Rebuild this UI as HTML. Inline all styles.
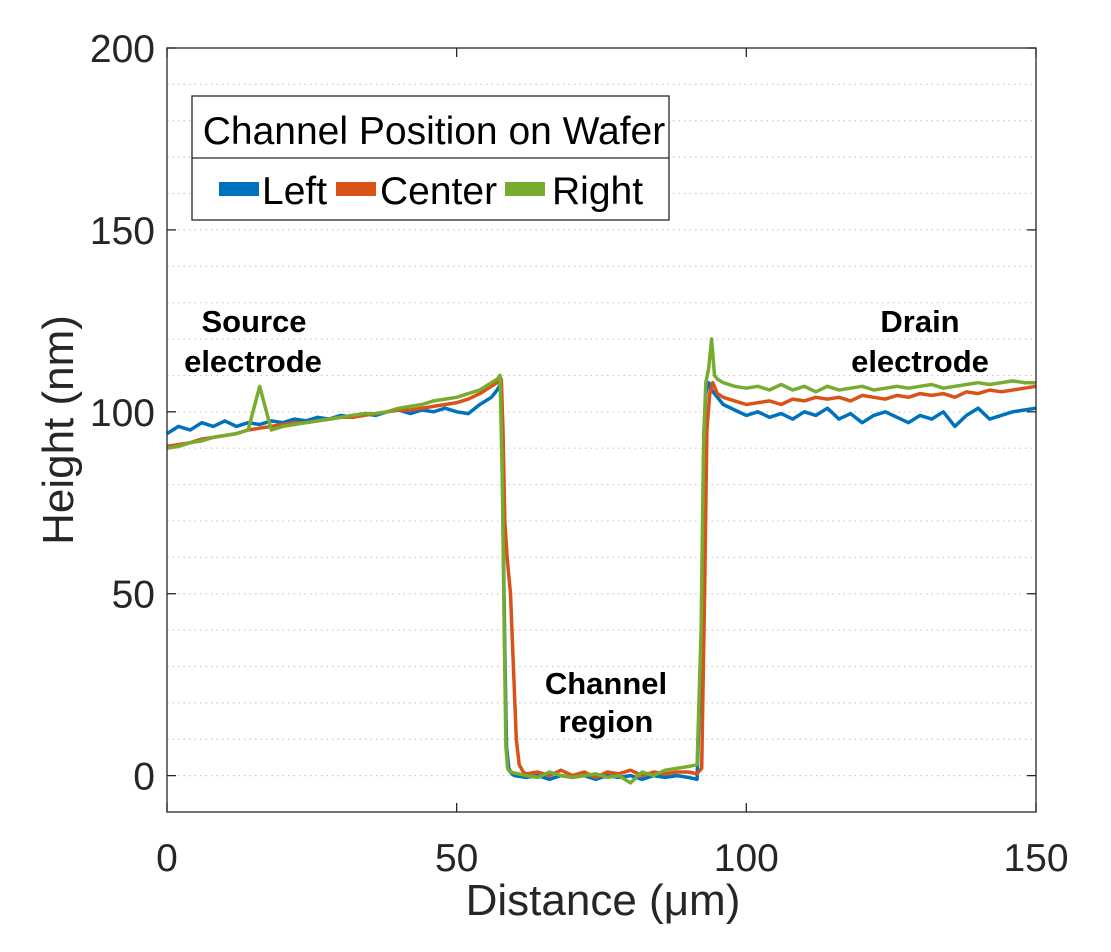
<!DOCTYPE html>
<html><head><meta charset="utf-8">
<style>
body{margin:0;background:#fff;}
svg{display:block;font-family:"Liberation Sans",Arial,sans-serif;}
</style></head>
<body>
<svg id="chart" width="1111" height="952" viewBox="0 0 1111 952"></svg>
<script>
// ---- data ----
const plateau1X = [0,2,4,6,8,10,12,14,16,18,20,22,24,26,28,30,32,34,36,38,40,42,44,46,48,50,52,54,56];
const channelX = [62,64,66,68,70,72,74,76,78,80,82,84,86,88,90];
const plateau2X = [96,98,100,102,104,106,108,110,112,114,116,118,120,122,124,126,128,130,132,134,136,138,140,142,144,146,148,150];

const leftP1 = [94,96,95,97,96,97.5,96,97,96.5,97.5,97,98,97.5,98.5,98,99,98.5,99.5,99,100,100.5,99.5,100.5,100,101,100,99.5,102,104];
const leftEdge1X = [57,57.7,58,58.3,58.6,59,59.5,60];
const leftEdge1Y = [106,108,70,35,8,2,0.5,0];
const leftCh = [-0.5,0,-1,0,-0.5,0,-1,0,-0.5,0,-1,0,-0.5,0,-0.5];
const leftEdge2X = [91.5,92.3,92.7,93,93.5,94,95];
const leftEdge2Y = [-1,40,95,105,108,106,104];
const leftP2 = [102,100.5,99,100,98.5,99.5,98,100,99,101,98,99.5,97,99,100,98.5,97,99,98,100,96,99,101,98,99,100,100.5,101];

const centerP1 = [90.5,91,91.5,92.5,93,93.5,94,95,95.5,96,96.5,97,97,97.5,98,98.5,98.5,99,99.5,100,100.5,100.5,101,101.5,102,102.5,103.5,105,107];
const centerEdge1X = [57,57.7,58,58.3,58.7,59.3,59.8,60.3,60.8,61.5];
const centerEdge1Y = [108,109,95,70,60,50,30,10,3,1];
const centerCh = [0.5,1,0,1.5,0,1,-0.5,1,0.5,1.5,0,1,0.5,1,1];
const centerEdge2X = [91.5,92.3,92.8,93.2,93.7,94.2,95];
const centerEdge2Y = [0.5,2,50,95,105,108,105];
const centerP2 = [104,103,102,102.5,103,102,103.5,103,104,103.5,104,103,104.5,104,103.5,104.5,104,105,104.5,105,104,105.5,105,106,105.5,106,106.5,107];

const rightP1 = [90,90.5,91.5,92,93,93.5,94,95,107,95,96,96.5,97,97.5,98,98.5,99,99.5,99.5,100,101,101.5,102,103,103.5,104,105,106,108];
const rightEdge1X = [57,57.5,57.9,58.2,58.5,58.8,59.2];
const rightEdge1Y = [109,110,80,40,8,2,1];
const rightCh = [0,-0.5,1,0,-0.5,0,0.5,-0.5,0,-2,1,0,1.5,2,2.5];
const rightEdge2X = [91.5,92.2,92.6,93,93.5,94,94.5,95];
const rightEdge2Y = [3,40,90,108,112,120,110,109];
const rightP2 = [108,107,106.5,107,106,107.5,106,107,105.5,107,106,106.5,107,106,106.5,107,106.5,107,107.5,106.5,107,107.5,108,107.5,108,108.5,108,108];

const xTicks = [0,50,100,150];
const yTicks = [0,50,100,150,200];

// ---- layout ----
const L=167,R=1036,T=48,B=812;
const xMin=0,xMax=150,yMin=-10,yMax=200;
const sx=v=>L+(v-xMin)/(xMax-xMin)*(R-L);
const sy=v=>B-(v-yMin)/(yMax-yMin)*(B-T);
const NS="http://www.w3.org/2000/svg";
const svg=document.getElementById('chart');
function mk(tag,attrs,parent){const e=document.createElementNS(NS,tag);for(const k in attrs)e.setAttribute(k,attrs[k]);(parent||svg).appendChild(e);return e;}

// grid
const grid=mk('g',{});


for(let v=0;v<200;v+=10){
  mk('line',{x1:L,x2:R,y1:sy(v),y2:sy(v),stroke:'#c8c8c8','stroke-width':1.2,'stroke-dasharray':'1.5 4'},grid);
}

// series
function build(p1,e1x,e1y,ch,e2x,e2y,p2){
  const xs=[].concat(plateau1X,e1x,channelX,e2x,plateau2X);
  const ys=[].concat(p1,e1y,ch,e2y,p2);
  return xs.map((x,i)=>[x,ys[i]]);
}
const series=[
  {name:'left',color:'#0072BD',pts:build(leftP1,leftEdge1X,leftEdge1Y,leftCh,leftEdge2X,leftEdge2Y,leftP2)},
  {name:'center',color:'#D95319',pts:build(centerP1,centerEdge1X,centerEdge1Y,centerCh,centerEdge2X,centerEdge2Y,centerP2)},
  {name:'right',color:'#77AC30',pts:build(rightP1,rightEdge1X,rightEdge1Y,rightCh,rightEdge2X,rightEdge2Y,rightP2)}
];
series.forEach(s=>{
  const d=s.pts.map((p,i)=>(i?'L':'M')+sx(p[0]).toFixed(1)+' '+sy(p[1]).toFixed(1)).join(' ');
  const path=mk('path',{d:d,fill:'none',stroke:s.color,'stroke-width':3.5,'stroke-linejoin':'round'});
  
  
});

// axes box
const box=mk('rect',{x:L,y:T,width:R-L,height:B-T,fill:'none',stroke:'#262626','stroke-width':1.3});



// ticks
xTicks.forEach(v=>{
  mk('line',{x1:sx(v),x2:sx(v),y1:B,y2:B-9,stroke:'#262626','stroke-width':1.3});
  mk('line',{x1:sx(v),x2:sx(v),y1:T,y2:T+9,stroke:'#262626','stroke-width':1.3});
  const t=mk('text',{x:sx(v),y:871,'text-anchor':'middle','font-size':39,fill:'#262626'});
  t.textContent=v;
  
  
});
yTicks.forEach(v=>{
  mk('line',{x1:L,x2:L+9,y1:sy(v),y2:sy(v),stroke:'#262626','stroke-width':1.3});
  mk('line',{x1:R,x2:R-9,y1:sy(v),y2:sy(v),stroke:'#262626','stroke-width':1.3});
  const t=mk('text',{x:155,y:sy(v)+14,'text-anchor':'end','font-size':39,fill:'#262626'});
  t.textContent=v;
  
  
});
</script>
<div style="position:absolute;left:0;top:0;width:1111px;height:952px;pointer-events:none">
<svg width="1111" height="952" style="position:absolute;left:0;top:0">
  <text x="603" y="915" text-anchor="middle" font-size="44" fill="#262626" font-family="Liberation Sans, sans-serif">Distance (μm)</text>
  <text x="0" y="0" transform="translate(73,430) rotate(-90)" text-anchor="middle" font-size="44" fill="#262626" font-family="Liberation Sans, sans-serif">Height (nm)</text>
  <g font-family="Liberation Sans, sans-serif" font-weight="bold" font-size="31" fill="#000" text-anchor="middle">
    <text x="254" y="332">Source</text>
    <text x="253" y="372">electrode</text>
    <text x="920" y="332">Drain</text>
    <text x="920" y="372">electrode</text>
    <text x="606" y="694">Channel</text>
    <text x="606" y="732">region</text>
  </g>
  <g>
    <rect x="192" y="96" width="477" height="124" fill="#fff" stroke="#262626" stroke-width="1.3"/>
    <line x1="192" y1="158" x2="669" y2="158" stroke="#262626" stroke-width="1.3"/>
    <text x="434" y="144" text-anchor="middle" font-size="39" fill="#000" font-family="Liberation Sans, sans-serif">Channel Position on Wafer</text>
    <rect x="219" y="182" width="40" height="14" fill="#0072BD"/>
    <text x="262" y="204" font-size="39" fill="#000" font-family="Liberation Sans, sans-serif">Left</text>
    <rect x="336" y="182" width="40" height="14" fill="#D95319"/>
    <text x="380" y="204" font-size="39" fill="#000" font-family="Liberation Sans, sans-serif">Center</text>
    <rect x="505" y="182" width="40" height="14" fill="#77AC30"/>
    <text x="552" y="204" font-size="39" fill="#000" font-family="Liberation Sans, sans-serif">Right</text>
  </g>
</svg>
</div>
</body></html>
